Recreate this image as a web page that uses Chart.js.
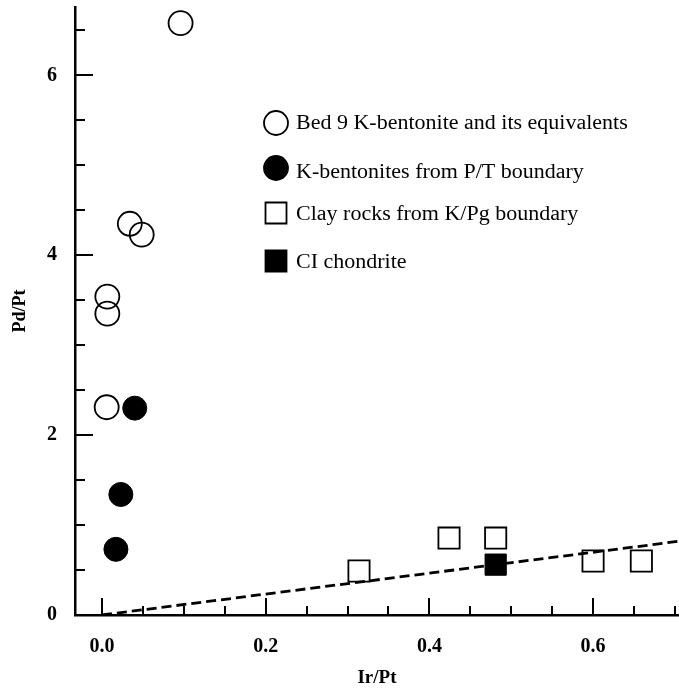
<!DOCTYPE html>
<html>
<head>
<meta charset="utf-8">
<script src="https://cdn.jsdelivr.net/npm/chart.js@4/dist/chart.umd.min.js"></script>
<style>
  body { margin: 0; background: #fff; }
  canvas { display: block; }
</style>
</head>
<body>
<canvas id="myChart" width="679" height="689"></canvas>
<script>
// Bed 9 K-bentonite and its equivalents
const bedX = [0.096, 0.034, 0.0485, 0.0065, 0.0065, 0.0057];
const bedY = [6.58, 4.35, 4.23, 3.54, 3.35, 2.31];
// K-bentonites from P/T boundary
const ptX = [0.040, 0.023, 0.017];
const ptY = [2.30, 1.34, 0.73];
// Clay rocks from K/Pg boundary
const kpgX = [0.314, 0.424, 0.481, 0.600, 0.659];
const kpgY = [0.49, 0.855, 0.855, 0.60, 0.60];
// CI chondrite
const ciX = [0.481];
const ciY = [0.56];
// dashed reference line through the CI ratio
const lineX = [0, 0.705];
const lineY = [0, 0.82];

const xTicks = [0, 0.2, 0.4, 0.6];
const yTicks = [0, 2, 4, 6];
const legendLabels = [
  'Bed 9 K-bentonite and its equivalents',
  'K-bentonites from P/T boundary',
  'Clay rocks from K/Pg boundary',
  'CI chondrite'
];

const serif = '"Liberation Serif", "Times New Roman", serif';

function pts(xs, ys) {
  return xs.map((x, i) => ({ x: x, y: ys[i] }));
}

// small tick marks drawn inside the axes, plus the legend inside the plot
const extras = {
  id: 'extras',
  afterDraw(chart) {
    const ctx = chart.ctx;
    const xs = chart.scales.x, ys = chart.scales.y;
    const area = chart.chartArea;
    ctx.save();
    ctx.strokeStyle = '#000';
    ctx.lineWidth = 2;
    for (let v = 0; v <= 6.5001; v += 0.5) {
      const py = Math.round(ys.getPixelForValue(v));
      const major = Math.abs(v / 2 - Math.round(v / 2)) < 1e-6;
      ctx.beginPath();
      ctx.moveTo(area.left, py);
      ctx.lineTo(area.left + (major ? 18 : 10), py);
      ctx.stroke();
    }
    for (let v = 0; v <= 0.7001; v += 0.05) {
      const px = Math.round(xs.getPixelForValue(v));
      const major = Math.abs(v / 0.2 - Math.round(v / 0.2)) < 1e-6;
      ctx.beginPath();
      ctx.moveTo(px, area.bottom);
      ctx.lineTo(px, area.bottom - (major ? 17 : 9));
      ctx.stroke();
    }

    // legend
    const items = [
      { shape: 'circle', fill: false, y: 123, ty: 124 },
      { shape: 'circle', fill: true, y: 168, ty: 173 },
      { shape: 'rect', fill: false, y: 213, ty: 215 },
      { shape: 'rect', fill: true, y: 261, ty: 263 }
    ];
    ctx.textBaseline = 'middle';
    ctx.fillStyle = '#000';
    ctx.lineWidth = 1.8;
    items.forEach((it, i) => {
      const cx = 276;
      ctx.beginPath();
      if (it.shape === 'circle') {
        ctx.arc(cx, it.y, 12, 0, Math.PI * 2);
      } else {
        ctx.rect(cx - 10.5, it.y - 10.5, 21, 21);
      }
      if (it.fill) ctx.fill();
      ctx.stroke();
      ctx.save();
      ctx.translate(296, it.ty);
      ctx.scale(1.1, 1);
      ctx.font = '20px ' + serif;
      ctx.fillText(legendLabels[i], 0, 0);
      ctx.restore();
    });
    ctx.restore();
  }
};

const config = {
  type: 'scatter',
  data: {
    datasets: [
      {
        label: 'CI line',
        data: pts(lineX, lineY),
        showLine: true,
        borderColor: '#000',
        borderWidth: 2.8,
        borderDash: [10, 5],
        pointRadius: 0,
        fill: false,
        order: 0
      },
      {
        label: legendLabels[0],
        data: pts(bedX, bedY),
        pointStyle: 'circle',
        pointRadius: 12,
        pointBackgroundColor: 'rgba(255,255,255,0)',
        pointBorderColor: '#000',
        pointBorderWidth: 1.8,
        order: 1
      },
      {
        label: legendLabels[1],
        data: pts(ptX, ptY),
        pointStyle: 'circle',
        pointRadius: 12,
        pointBackgroundColor: '#000',
        pointBorderColor: '#000',
        pointBorderWidth: 1,
        order: 1
      },
      {
        label: legendLabels[2],
        data: pts(kpgX, kpgY),
        pointStyle: 'rect',
        pointRadius: 15,
        pointBackgroundColor: 'rgba(255,255,255,0)',
        pointBorderColor: '#000',
        pointBorderWidth: 1.8,
        order: 1
      },
      {
        label: legendLabels[3],
        data: pts(ciX, ciY),
        pointStyle: 'rect',
        pointRadius: 15,
        pointBackgroundColor: '#000',
        pointBorderColor: '#000',
        pointBorderWidth: 1,
        order: 1
      }
    ]
  },
  options: {
    responsive: false,
    animation: false,
    layout: { autoPadding: false, padding: { top: 7, right: 0, left: 0, bottom: 0 } },
    plugins: {
      legend: { display: false },
      tooltip: { enabled: false }
    },
    scales: {
      x: {
        type: 'linear',
        min: -0.033,
        max: 0.705,
        afterBuildTicks: (s) => { s.ticks = xTicks.map(v => ({ value: v })); },
        afterFit: (s) => { s.height = 74; s.paddingLeft = 0; s.paddingRight = 0; },
        grid: { drawOnChartArea: false, drawTicks: false },
        border: { display: true, color: '#000', width: 2.5 },
        ticks: {
          color: '#000',
          padding: 20,
          font: { family: serif, size: 20, weight: 'bold' },
          callback: (v) => Number(v).toFixed(1)
        },
        title: {
          display: true,
          text: 'Ir/Pt',
          color: '#000',
          padding: { top: 0, bottom: 0 },
          font: { family: serif, size: 19, weight: 'bold' }
        }
      },
      y: {
        type: 'linear',
        min: 0,
        max: 6.76,
        afterBuildTicks: (s) => { s.ticks = yTicks.map(v => ({ value: v })); },
        afterFit: (s) => { s.width = 75; s.paddingTop = 0; s.paddingBottom = 0; },
        grid: { drawOnChartArea: false, drawTicks: false },
        border: { display: true, color: '#000', width: 2.5 },
        ticks: {
          color: '#000',
          padding: 18,
          font: { family: serif, size: 20, weight: 'bold' },
          callback: (v) => String(v)
        },
        title: {
          display: true,
          text: 'Pd/Pt',
          color: '#000',
          padding: { top: 10, bottom: 0 },
          font: { family: serif, size: 18, weight: 'bold' }
        }
      }
    }
  },
  plugins: [extras]
};

const myChart = new Chart(document.getElementById('myChart').getContext('2d'), config);
</script>
</body>
</html>
